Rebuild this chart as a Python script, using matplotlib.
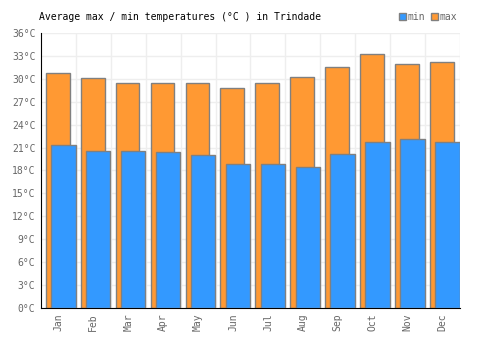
import numpy as np
import matplotlib
matplotlib.use("Agg")
import matplotlib.pyplot as plt
from matplotlib.patches import Patch

months = ["Jan", "Feb", "Mar", "Apr", "May", "Jun",
          "Jul", "Aug", "Sep", "Oct", "Nov", "Dec"]
t_max = [30.7, 30.1, 29.5, 29.4, 29.4, 28.8, 29.4, 30.2, 31.6, 33.2, 31.9, 32.2]
t_min = [21.3, 20.5, 20.5, 20.4, 20.0, 18.9, 18.9, 18.5, 20.2, 21.7, 22.1, 21.7]
yticks = list(range(0, 37, 3))

plt.rcParams['font.family'] = 'DejaVu Sans Mono'

fig = plt.figure(figsize=(5, 3.5), dpi=100)
ax = fig.add_axes([0.082, 0.12, 0.838, 0.786])

x = np.arange(len(months))
ax.bar(x - 0.02, t_max, width=0.68, color='#ff9933', edgecolor='#808080',
       linewidth=1, zorder=2, label='max')
ax.bar(x + 0.14, t_min, width=0.70, color='#3399ff', edgecolor='#808080',
       linewidth=1, zorder=3, label='min')

ax.set_xlim(-0.5, 11.5)
ax.set_ylim(0, 36)
ax.set_yticks(yticks)
ax.set_yticklabels([f"{v}°C" for v in yticks], fontsize=7, color='#666666')
ax.set_xticks(x)
ax.set_xticklabels(months, fontsize=7, color='#666666', rotation=89.9,
                   ha='center', va='top')
ax.set_xticks(np.arange(0.5, 12, 1), minor=True)
ax.grid(axis='y', color='#eeeeee', linewidth=1, zorder=0)
ax.grid(axis='x', which='minor', color='#eeeeee', linewidth=1, zorder=0)
ax.tick_params(which='both', length=0, pad=4)

for s in ['top', 'right']:
    ax.spines[s].set_visible(False)
ax.spines['left'].set_color('black')
ax.spines['bottom'].set_color('black')

fig.text(0.078, 0.951, "Average max / min temperatures (°C ) in Trindade",
         fontsize=7, color='black', va='center', ha='left')

handles = [Patch(facecolor='#3399ff', edgecolor='#808080'),
           Patch(facecolor='#ff9933', edgecolor='#808080')]
fig.legend(handles, ['min', 'max'], loc='center right',
           bbox_to_anchor=(0.915, 0.951), ncol=2, frameon=False,
           fontsize=7, handlelength=0.7, handleheight=0.7,
           handletextpad=0.2, columnspacing=0.6, labelcolor='#666666',
           borderpad=0, borderaxespad=0)

fig.savefig("out.png", dpi=100)
